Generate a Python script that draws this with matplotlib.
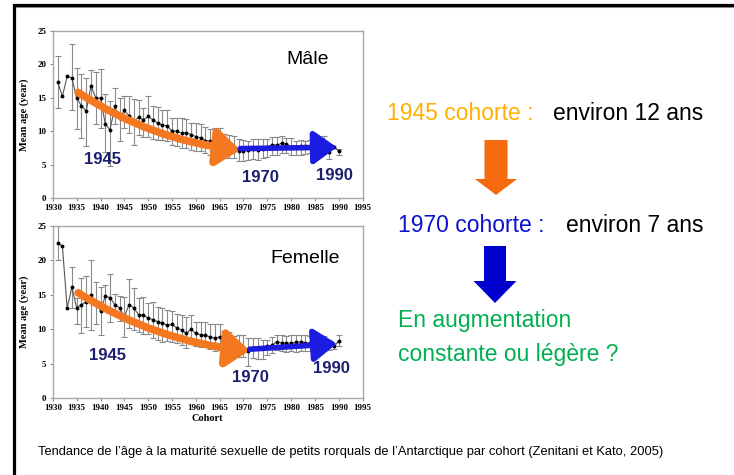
import numpy as np
import matplotlib.pyplot as plt
from matplotlib import font_manager
from matplotlib.patches import FancyArrow

# fonts: narrow sans for slide text if present, serif for the chart axes
names = {f.name for f in font_manager.fontManager.ttflist}
narrow = 'Liberation Sans Narrow' if 'Liberation Sans Narrow' in names else 'Liberation Sans'
serif = 'Liberation Serif'

nan = np.nan
years = list(range(1931, 1991))

# male (Mâle)
male_mean = [17.4, 15.2, 18.2, 18.0, 14.9, 13.8, 13.0, 16.8, 15.0, 14.9,
             11.1, 10.2, 13.7, 11.9, 13.1, 12.3, 11.5, 12.1, 11.7, 12.2,
             11.7, 11.2, 10.9, 10.8, 10.0, 10.0, 9.7, 9.8, 9.5, 9.2,
             9.0, 8.6, 8.5, 8.2, 8.7, 8.0, 7.7, 7.5, 7.1, 7.1,
             7.2, 7.4, 7.2, 7.4, 7.6, 8.0, 7.9, 8.2, 8.1, 7.7,
             7.7, 7.8, 7.8, 7.8, 8.0, 7.8, 8.6, 6.9, 7.7, 7.0]
male_hi = [21.3, nan, nan, 23.0, 19.4, 18.6, 17.9, 19.1, 18.8, 19.3,
           15.5, 14.5, 16.4, 14.9, 15.3, 15.3, 14.8, 14.7, 13.4, 15.2,
           13.7, 13.6, 13.2, 13.2, 11.9, 12.0, 12.0, 11.8, 11.3, 11.3,
           11.1, 10.6, 10.4, 10.5, 10.5, 9.6, 9.4, 9.3, 8.8, 8.7,
           8.6, 8.8, 8.9, 8.9, 8.9, 9.2, 9.2, 9.3, 9.0, 9.0,
           8.6, 8.7, 8.6, 8.7, 9.0, 9.0, 9.3, 7.5, nan, 7.3]
male_lo = [13.4, nan, nan, 13.1, 10.4, 9.0, 7.8, 14.4, 11.1, 10.5,
           6.9, 4.8, 11.1, 8.5, 10.5, 9.8, 8.0, 9.5, 9.2, 9.2,
           8.8, 8.7, 8.7, 8.5, 7.9, 7.8, 7.5, 7.5, 7.2, 7.1,
           7.0, 6.7, 6.5, 6.3, 7.0, 6.2, 6.0, 6.0, 5.5, 5.5,
           5.7, 5.8, 5.7, 6.0, 6.2, 6.5, 6.5, 6.8, 6.7, 6.5,
           6.5, 6.5, 6.6, 6.7, 7.0, 6.8, 8.0, 5.8, nan, 6.5]

# female (Femelle)
female_mean = [22.6, 22.1, 13.1, 16.1, 13.1, 13.6, 14.0, 15.0, 13.9, 12.7,
               14.8, 14.6, 13.6, 13.1, 11.8, 13.6, 13.1, 12.1, 12.1, 11.6,
               11.4, 11.1, 10.9, 10.6, 10.7, 10.2, 9.9, 9.4, 10.0, 9.4,
               9.2, 9.1, 8.9, 8.7, 8.9, 8.2, 8.0, 7.4, 7.3, 7.2,
               6.8, 7.3, 7.3, 7.3, 7.5, 7.7, 8.2, 8.0, 8.0, 8.0,
               8.1, 8.2, 8.0, 8.0, 7.8, 8.0, 8.1, 7.8, 7.5, 8.3]
female_hi = [25.0, nan, nan, 19.0, 14.5, 17.4, 17.8, 20.0, 16.9, 16.2,
             16.5, 18.1, 15.2, 14.8, 14.7, 17.3, 16.0, 14.5, 14.7, 13.8,
             13.9, 13.3, 13.1, 12.8, 12.7, 12.2, 12.1, 11.8, 12.1, 11.1,
             11.0, 11.0, 10.8, 10.8, 10.8, 9.8, 9.6, 9.0, 9.2, 9.1,
             8.7, 8.7, 8.8, 8.5, 8.5, 8.9, 9.2, 9.1, 9.0, 9.2,
             9.2, 9.1, 9.1, 9.0, 8.9, 9.2, 9.0, 8.5, 8.0, 9.2]
female_lo = [20.0, nan, nan, 13.1, 10.7, 9.5, 10.3, 9.9, 10.8, 9.1,
             13.2, 11.0, 12.2, 11.2, 8.9, 10.2, 9.9, 9.6, 9.3, 9.3,
             8.7, 8.5, 8.2, 8.3, 8.2, 8.0, 7.7, 7.3, 7.8, 7.5,
             7.4, 7.4, 7.2, 6.9, 7.0, 6.6, 6.5, 6.3, 6.0, 5.9,
             4.7, 5.8, 5.7, 5.7, 6.3, 6.5, 7.0, 6.8, 6.7, 6.8,
             6.7, 6.8, 6.8, 6.8, 6.7, 6.8, 7.0, 7.0, 7.1, 7.5]

panels = [
    # name, mean, hi, lo, orange arrow, blue arrow, label positions, name pos, axes rect
    ('Mâle', male_mean, male_hi, male_lo,
     ((1935.3, 15.8), (1969.3, 7.2)), ((1969.3, 7.4), (1989.6, 7.6)),
     [('1945', 1940.5, 5.8), ('1970', 1973.5, 3.1), ('1990', 1989.0, 3.4)],
     (1983.5, 20.7), [0.072, 0.583, 0.422, 0.352]),
    ('Femelle', female_mean, female_hi, female_lo,
     ((1935.3, 15.3), (1971.3, 6.9)), ((1971.3, 7.1), (1989.6, 7.9)),
     [('1945', 1941.5, 6.2), ('1970', 1971.5, 3.0), ('1990', 1988.5, 4.3)],
     (1983.0, 20.3), [0.072, 0.162, 0.422, 0.362]),
]

fig = plt.figure(figsize=(7.34, 4.75), dpi=100)

for name, mean, hi, lo, orng, blu, labels, namepos, rect in panels:
    ax = fig.add_axes(rect)
    x = np.array(years)
    m = np.array(mean)
    h = np.array(hi)
    l = np.array(lo)
    ok = ~np.isnan(h)
    ax.errorbar(x[ok], m[ok], yerr=[m[ok] - l[ok], h[ok] - m[ok]], fmt='none',
                ecolor='#8a8a8a', elinewidth=0.8, capsize=2.5, capthick=0.8, zorder=2)
    ax.plot(x, m, color='#555555', lw=0.8, marker='o', ms=1.8,
            mfc='black', mec='black', zorder=3)
    ax.annotate('', xy=orng[1], xytext=orng[0], zorder=4,
                arrowprops=dict(arrowstyle='-|>,head_width=0.55,head_length=0.7',
                                lw=5.5, color='#F47820', mutation_scale=20,
                                shrinkA=0, shrinkB=0,
                                connectionstyle='arc3,rad=0.12'))
    ax.annotate('', xy=blu[1], xytext=blu[0], zorder=4,
                arrowprops=dict(arrowstyle='-|>,head_width=0.5,head_length=0.7',
                                lw=4, color='#1C1CE0', mutation_scale=20,
                                shrinkA=0, shrinkB=0))
    for t, lx, ly in labels:
        ax.text(lx, ly, t, ha='center', va='center', fontsize=12,
                fontweight='bold', color='#1C1F6E', family='Liberation Sans')
    ax.text(namepos[0], namepos[1], name, ha='center', va='center',
            fontsize=14, color='black', family='Liberation Sans')
    ax.set_xlim(1930, 1995)
    ax.set_ylim(0, 25)
    ax.set_xticks(range(1930, 1996, 5))
    ax.set_yticks(range(0, 26, 5))
    for lab in ax.get_xticklabels() + ax.get_yticklabels():
        lab.set_family(serif)
        lab.set_fontweight('bold')
        lab.set_fontsize(6.5)
    ax.tick_params(length=2.5, width=0.7, color='#888888', pad=2)
    for s in ax.spines.values():
        s.set_color('#A8A8A8')
        s.set_linewidth(1)
    ax.set_ylabel('Mean age (year)', family=serif, fontweight='bold',
                  fontsize=7.5, labelpad=6)
    if name == 'Femelle':
        ax.set_xlabel('Cohort', family=serif, fontweight='bold',
                      fontsize=7.5, labelpad=1)

# slide overlay in pixel coordinates
ov = fig.add_axes([0, 0, 1, 1], zorder=10)
ov.set_xlim(0, 734)
ov.set_ylim(475, 0)
ov.axis('off')
ov.patch.set_visible(False)

# frame of the slide
ov.plot([13.5, 734], [6.5, 6.5], color='#9a9a9a', lw=1.5, solid_capstyle='butt')
ov.plot([13.5, 13.5, 734], [475, 4.5, 4.5], color='black', lw=2.3,
        solid_capstyle='butt', solid_joinstyle='miter')

fs = 20 if narrow != 'Liberation Sans' else 16.5
ov.text(387, 113, '1945 cohorte :', color='#FFB000', fontsize=fs, family=narrow,
        ha='left', va='center')
ov.text(703, 113, 'environ 12 ans', color='black', fontsize=fs, family=narrow,
        ha='right', va='center')
ov.text(398, 225, '1970 cohorte :', color='#0A10CC', fontsize=fs, family=narrow,
        ha='left', va='center')
ov.text(703, 225, 'environ 7 ans', color='black', fontsize=fs, family=narrow,
        ha='right', va='center')
ov.text(398, 320, 'En augmentation', color='#00B050', fontsize=fs, family=narrow,
        ha='left', va='center')
ov.text(398, 354, 'constante ou légère ?', color='#00B050', fontsize=fs,
        family=narrow, ha='left', va='center')

ov.add_patch(FancyArrow(496, 140, 0, 55, width=23, head_width=42,
                        head_length=16, length_includes_head=True,
                        color='#F56A0F', lw=0))
ov.add_patch(FancyArrow(495, 246, 0, 57, width=22, head_width=43,
                        head_length=22, length_includes_head=True,
                        color='#0000CC', lw=0))

ov.text(38, 452, 'Tendance de l’âge à la maturité sexuelle de petits rorquals de '
        'l’Antarctique par cohort (Zenitani et Kato, 2005)',
        fontsize=9.3, family=narrow, color='black', ha='left', va='center')

fig.savefig('out.png', dpi=100)
